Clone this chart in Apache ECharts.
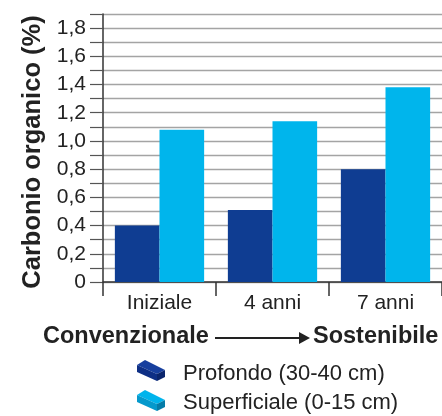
<!DOCTYPE html>
<html>
<head>
<meta charset="utf-8">
<script src="https://cdn.jsdelivr.net/npm/echarts@6/dist/echarts.min.js"></script>
<style>
  html, body { margin: 0; padding: 0; background: #fff; }
  #main { width: 442px; height: 416px; }
</style>
</head>
<body>
<div id="main"></div>
<script>
// dati
const categorie = ["Iniziale", "4 anni", "7 anni"];
const profondo = [0.40, 0.51, 0.80];
const superficiale = [1.08, 1.14, 1.38];
const nomiSerie = ["Profondo (30-40 cm)", "Superficiale (0-15 cm)"];

const FONT = "Liberation Sans";

// piccolo parallelepipedo della legenda (tre facce)
function scatola(dy, top, front, side) {
  const p = (x, y) => [x, y + dy];
  return [
    { type: "polygon", shape: { points: [p(137, 365), p(145, 360), p(165, 370), p(157, 374)] }, style: { fill: top } },
    { type: "polygon", shape: { points: [p(137, 365), p(157, 374), p(157, 381), p(137, 372)] }, style: { fill: front } },
    { type: "polygon", shape: { points: [p(157, 374), p(165, 370), p(165, 377), p(157, 381)] }, style: { fill: side } }
  ];
}

const myChart = echarts.init(document.getElementById("main"));

const option = {
  animation: false,
  grid: { left: 103, right: 0, top: 14, bottom: 134, containLabel: false },
  legend: {
    orient: "vertical",
    left: 137,
    top: 363,
    padding: 0,
    itemGap: 7,
    itemWidth: 28,
    itemHeight: 21,
    icon: "rect",
    itemStyle: { opacity: 0 },
    data: nomiSerie,
    textStyle: { fontFamily: FONT, fontSize: 22, color: "#222", padding: [0, 0, 0, 13] }
  },
  xAxis: {
    type: "category",
    data: categorie,
    axisLine: { lineStyle: { color: "#333", width: 1.5 } },
    axisTick: { show: true, length: 14, lineStyle: { color: "#333", width: 1.5 } },
    axisLabel: { fontFamily: FONT, fontSize: 21, color: "#222", margin: 11 }
  },
  yAxis: {
    type: "value",
    min: 0,
    max: 1.9,
    interval: 0.1,
    name: "Carbonio organico (%)",
    nameLocation: "middle",
    nameGap: 57,
    nameTextStyle: { fontFamily: FONT, fontSize: 25.5, fontWeight: "bold", color: "#222", padding: [0, 8, 0, 0] },
    axisLine: { show: true, lineStyle: { color: "#333", width: 1.5 } },
    axisTick: { show: true, length: 13, lineStyle: { color: "#555", width: 1.2 } },
    axisLabel: {
      fontFamily: FONT,
      fontSize: 21,
      color: "#222",
      margin: 17,
      formatter: function (v) {
        const k = Math.round(v * 10);
        if (k % 2 !== 0) return "";
        if (k === 0) return "0";
        return v.toFixed(1).replace(".", ",");
      }
    },
    splitLine: { show: true, lineStyle: { color: "#a4a4a4", width: 1.4 } }
  },
  series: [
    {
      name: nomiSerie[0],
      type: "bar",
      data: profondo,
      barGap: "0%",
      barCategoryGap: "21%",
      itemStyle: { color: "#0f3d92" }
    },
    {
      name: nomiSerie[1],
      type: "bar",
      data: superficiale,
      itemStyle: { color: "#00b5ec" }
    }
  ],
  graphic: [
    {
      type: "text", left: 43, top: 325,
      style: { text: "Convenzionale", font: "bold 23.5px " + FONT, fill: "#222" }
    },
    {
      type: "line", shape: { x1: 215, y1: 338, x2: 300, y2: 338 },
      style: { stroke: "#222", lineWidth: 2 }
    },
    {
      type: "polygon", shape: { points: [[299, 332], [310, 338], [299, 344]] },
      style: { fill: "#222" }
    },
    {
      type: "text", left: 313, top: 325,
      style: { text: "Sostenibile", font: "bold 23.5px " + FONT, fill: "#222" }
    }
  ].concat(
    scatola(0, "#173f9e", "#0e2f85", "#0a256c"),
    scatola(30, "#00b4ec", "#0599cc", "#057ca8")
  )
};
// 使用刚指定的配置项和数据显示图表。
myChart.setOption(option);
</script>
</body>
</html>
